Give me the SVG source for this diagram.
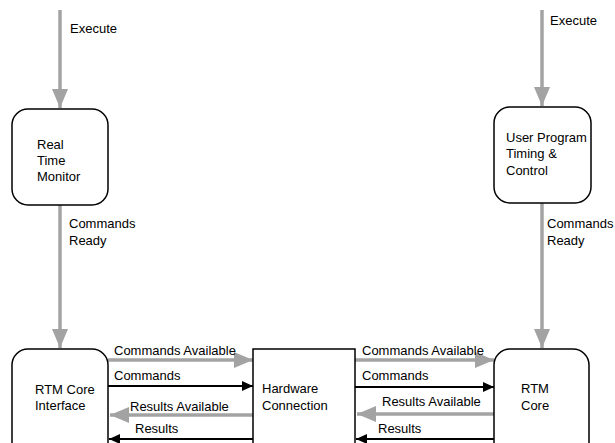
<svg xmlns="http://www.w3.org/2000/svg" width="615" height="443" viewBox="0 0 615 443">
  <style>
    text { font-family: "Liberation Sans", Arial, sans-serif; font-size: 13px; fill: #000; }
    .box { fill: #fff; stroke: #000; stroke-width: 1.5; }
    .sig { stroke: #a3a3a3; stroke-width: 3.5; fill: none; }
    .dat { stroke: #000; stroke-width: 2; fill: none; }
  </style>
  <defs>
    <marker id="headGray" markerUnits="userSpaceOnUse" markerWidth="19" markerHeight="16" refX="19" refY="8" orient="auto">
      <path d="M0,0 L19,8 L0,16 z" fill="#a3a3a3"/>
    </marker>
    <marker id="headBlack" markerUnits="userSpaceOnUse" markerWidth="11" markerHeight="10" refX="11" refY="5" orient="auto">
      <path d="M0,0 L11,5 L0,10 z" fill="#000"/>
    </marker>
  </defs>

  <rect width="615" height="443" fill="#fff"/>

  <!-- connectors -->
  <g id="connectors">
    <line class="sig" x1="60" y1="10" x2="60" y2="108" marker-end="url(#headGray)"/>
    <line class="sig" x1="542" y1="10" x2="542" y2="106" marker-end="url(#headGray)"/>
    <line class="sig" x1="60" y1="205" x2="60" y2="348" marker-end="url(#headGray)"/>
    <line class="sig" x1="542" y1="203" x2="542" y2="348" marker-end="url(#headGray)"/>

    <line class="sig" x1="108" y1="360" x2="253" y2="360" marker-end="url(#headGray)"/>
    <line class="dat" x1="108" y1="386" x2="253" y2="386" marker-end="url(#headBlack)"/>
    <line class="sig" x1="253" y1="415" x2="110" y2="415" marker-end="url(#headGray)"/>
    <line class="dat" x1="253" y1="439" x2="109" y2="439" marker-end="url(#headBlack)"/>

    <line class="sig" x1="355" y1="360" x2="494" y2="360" marker-end="url(#headGray)"/>
    <line class="dat" x1="355" y1="387" x2="494" y2="387" marker-end="url(#headBlack)"/>
    <line class="sig" x1="494" y1="414" x2="357" y2="414" marker-end="url(#headGray)"/>
    <line class="dat" x1="494" y1="439" x2="356" y2="439" marker-end="url(#headBlack)"/>

    <text x="70" y="33">Execute</text>
    <text x="550" y="25">Execute</text>
    <text x="69" y="228">Commands</text>
    <text x="69" y="245">Ready</text>
    <text x="547" y="228">Commands</text>
    <text x="547" y="245">Ready</text>

    <text x="114" y="355">Commands Available</text>
    <text x="114" y="380">Commands</text>
    <text x="130" y="411">Results Available</text>
    <text x="135" y="433">Results</text>

    <text x="362" y="355">Commands Available</text>
    <text x="362" y="380">Commands</text>
    <text x="382" y="406">Results Available</text>
    <text x="378" y="433">Results</text>
  </g>

  <!-- nodes -->
  <g id="real-time-monitor">
    <rect class="box" x="12" y="109" width="96" height="96" rx="16"/>
    <text x="37" y="149">Real</text>
    <text x="37" y="165">Time</text>
    <text x="37" y="181">Monitor</text>
  </g>

  <g id="user-program">
    <rect class="box" x="494" y="107" width="97" height="96" rx="16"/>
    <text x="506" y="142">User Program</text>
    <text x="506" y="158">Timing &amp;</text>
    <text x="506" y="175">Control</text>
  </g>

  <g id="rtm-core-interface">
    <rect class="box" x="12" y="349" width="96" height="110" rx="16"/>
    <text x="35" y="394">RTM Core</text>
    <text x="35" y="410">Interface</text>
  </g>

  <g id="hardware-connection">
    <rect class="box" x="253" y="349" width="102" height="110"/>
    <text x="262" y="393">Hardware</text>
    <text x="262" y="410">Connection</text>
  </g>

  <g id="rtm-core">
    <rect class="box" x="494" y="349" width="95" height="110" rx="16"/>
    <text x="521" y="393">RTM</text>
    <text x="521" y="410">Core</text>
  </g>
</svg>
